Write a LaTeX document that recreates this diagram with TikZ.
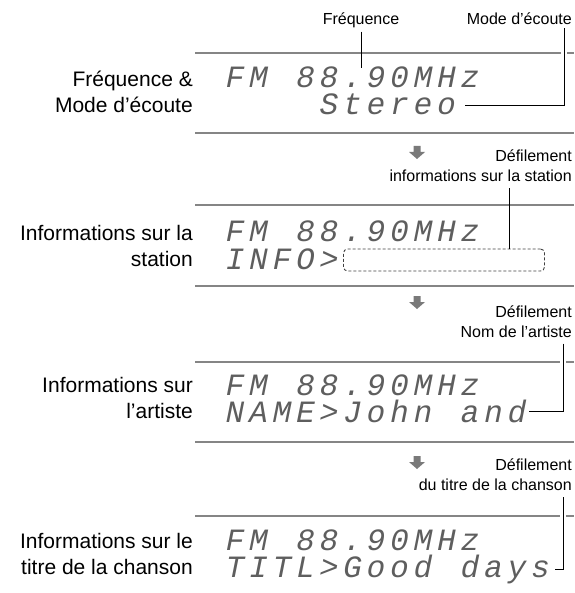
\documentclass[tikz,border=0pt]{standalone}
\usepackage{fontspec}
\setmainfont{Liberation Sans}
\newfontfamily\lcdfont{Liberation Mono}[FakeSlant=0.2]
\usepackage{tikz}
\usetikzlibrary{positioning,calc}
\definecolor{rule}{HTML}{858585}
\definecolor{lcd}{HTML}{5E5E5E}
\definecolor{pointer}{HTML}{7A7A7A}
\tikzset{
  sidelabel/.style={anchor=east, align=right, inner sep=0pt, font=\fontsize{21}{26}\selectfont},
  notelabel/.style={align=right, inner sep=0pt, font=\fontsize{16}{20}\selectfont},
  lcdchar/.style={anchor=base, inner sep=0pt, text=lcd, font=\lcdfont\fontsize{31}{31}\selectfont},
  separator/.style={draw=rule, line width=1.4pt},
  leader/.style={draw=black, line width=0.9pt},
  scrollbox/.style={draw=black!75, dash pattern=on 3pt off 2pt, rounded corners=4pt, line width=0.9pt, inner sep=0pt},
  flowarrow/.style={fill=pointer, draw=none}
}
\newcommand{\lcdx}{233.5}
\newcommand{\lcdpitch}{23.5}
\newcommand{\lcdrow}[3]{%
  \foreach \ch/\k [count=\n] in {#3}
    \node[lcdchar] (#1-\n) at ({\lcdx+\k*\lcdpitch}, #2) {\ch};
}
\newcommand{\freqrow}[2]{\lcdrow{#1}{#2}{F/0,M/1,8/3,8/4,./5,9/6,0/7,M/8,H/9,z/10}}
\newcommand{\flowarrow}[1]{%
  \fill[flowarrow] (#1) ++(-3.5,0) -- ++(7,0) -- ++(0,6) -- ++(4.5,0) -- ++(-8,7) -- ++(-8,-7) -- ++(4.5,0) -- cycle;
}

\begin{document}
\begin{tikzpicture}[x=1pt, y=-1pt]
  \useasboundingbox (0,0) rectangle (574,593);

  % frequence et mode d'ecoute
  \node[notelabel, anchor=base] (freqnote) at (361,25) {Fréquence};
  \node[notelabel, anchor=base east] (modenote) at (572,25) {Mode d’écoute};
  \node[sidelabel] (freqlabel) at (193,92) {Fréquence \&\\Mode d’écoute};
  \draw[separator] (195,53) -- (561,53) (567,53) -- (574,53);
  \draw[separator] (195,133) -- (574,133);
  \freqrow{freq}{88}
  \lcdrow{stereo}{115}{S/4,t/5,e/6,r/7,e/8,o/9}
  \coordinate (freqtip) at (361,68);
  \coordinate (modecorner) at (564,105);
  \coordinate (modeend) at (465,105);
  \draw[leader] ([yshift=-3pt]freqnote.south) -- (freqtip);
  \draw[leader] ([yshift=-3pt]modenote.south -| modecorner) -- (modecorner) -- (modeend);

  \coordinate (flow1) at (417,146);
  \flowarrow{flow1}

  % station
  \node[notelabel, anchor=east] (stationnote) at (572,166) {Défilement\\informations sur la station};
  \node[sidelabel] (stationlabel) at (193,245.5) {Informations sur la\\station};
  \draw[separator] (195,205) -- (574,205);
  \draw[separator] (195,286) -- (574,286);
  \freqrow{station}{242}
  \lcdrow{info}{269}{I/0,N/1,F/2,O/3,>/4}
  \node[scrollbox, minimum width=201pt, minimum height=22pt] (stationbox) at (444,260) {};
  \coordinate (stationtip) at (509,249);
  \draw[leader] ([yshift=-6pt]stationnote.south -| stationtip) -- (stationtip);

  \coordinate (flow2) at (417,296);
  \flowarrow{flow2}

  % artiste
  \node[notelabel, anchor=east] (artistnote) at (572,321.5) {Défilement\\Nom de l’artiste};
  \node[sidelabel] (artistlabel) at (193,398) {Informations sur\\l’artiste};
  \draw[separator] (195,362) -- (560,362) (566,362) -- (574,362);
  \draw[separator] (195,442) -- (574,442);
  \freqrow{artist}{395}
  \lcdrow{name}{422}{N/0,A/1,M/2,E/3,>/4,J/5,o/6,h/7,n/8,a/10,n/11,d/12}
  \coordinate (artistcorner) at (563,411);
  \coordinate (artistend) at (529,411);
  \draw[leader] ([yshift=-6pt]artistnote.south -| artistcorner) -- (artistcorner) -- (artistend);

  \coordinate (flow3) at (417,456);
  \flowarrow{flow3}

  % titre
  \node[notelabel, anchor=east] (titlenote) at (572,475) {Défilement\\du titre de la chanson};
  \node[sidelabel] (titlelabel) at (193,553.5) {Informations sur le\\titre de la chanson};
  \draw[separator] (195,516) -- (560,516) (566,516) -- (574,516);
  \freqrow{title}{550}
  \lcdrow{titl}{577}{T/0,I/1,T/2,L/3,>/4,G/5,o/6,o/7,d/8,d/10,a/11,y/12,s/13}
  \coordinate (titlecorner) at (563,569);
  \coordinate (titleend) at (555,569);
  \draw[leader] ([yshift=-6pt]titlenote.south -| titlecorner) -- (titlecorner) -- (titleend);
\end{tikzpicture}
\end{document}
